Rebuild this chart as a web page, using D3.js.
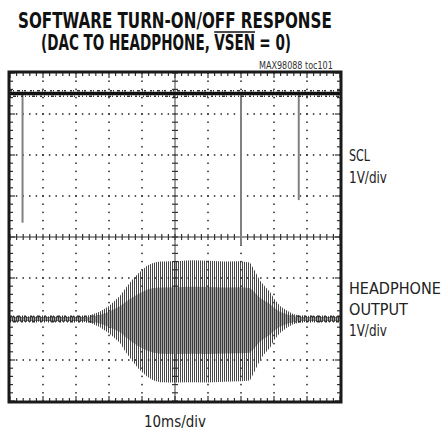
<!DOCTYPE html>
<html><head><meta charset="utf-8">
<script src="https://cdn.jsdelivr.net/npm/d3@7"></script>
<style>
html,body{margin:0;padding:0;background:#fff;}
svg{display:block;}
</style></head>
<body>
<svg id="c" width="445" height="436"></svg>
<script>
// ---- data ----
const timeDomain = [0, 100];          // ms, 10 ms/div
const voltDomain = [-4, 4];           // div (1 V/div)
const sclLevel = 3.5;                 // SCL trace position (div)
const sclPulseTimes = [3.8, 70, 87.5];
const sclPulseLows  = [0.35, -0.2, 0.9];
const hpLevel = -2.0;                 // headphone trace centre (div)
const hpTimes = [0, 22, 24.5, 27.3, 30, 33.3, 35, 37.3, 39, 41.5, 43.5, 45.5, 50, 55, 60, 65, 70, 72.7, 74, 75.8, 77, 78.8, 80, 81.8, 84, 85.8, 88, 100];
const hpUpper = [0.07, 0.07, 0.1, 0.18, 0.32, 0.56, 0.75, 0.98, 1.12, 1.3, 1.37, 1.4, 1.41, 1.43, 1.42, 1.4, 1.41, 1.38, 1.2, 0.93, 0.82, 0.66, 0.5, 0.32, 0.2, 0.12, 0.08, 0.07];
const hpLower = [0.07, 0.07, 0.1, 0.2, 0.35, 0.58, 0.8, 1.05, 1.22, 1.4, 1.5, 1.54, 1.55, 1.54, 1.55, 1.53, 1.52, 1.5, 1.3, 1.0, 0.86, 0.7, 0.52, 0.34, 0.21, 0.13, 0.08, 0.07];
const titleLine1 = "SOFTWARE TURN-ON/OFF RESPONSE";
const titleLine2 = ["(DAC TO HEADPHONE,", "VSEN", "= 0)"];
const sclLabels = ["SCL", "1V/div"];
const hpLabels = ["HEADPHONE", "OUTPUT", "1V/div"];
const xLabel = "10ms/div";
const idLabel = "MAX98088 toc101";

const svg = d3.select("#c");
const narrow = "'Liberation Sans Narrow','DejaVu Sans Condensed','Arial Narrow',sans-serif";

const x = d3.scaleLinear().domain(timeDomain).range([10, 340]);
const y = d3.scaleLinear().domain(voltDomain).range([401, 73]);

const xMajor = d3.range(0, 100.01, 10);
const yMajor = d3.range(-4, 4.01, 1);
const xMinor = d3.range(0, 100.01, 2);
const yMinor = d3.range(-4, 4.001, 0.2).map(v => Math.round(v*10)/10);

const defs = svg.append("defs");
const pat = defs.append("pattern").attr("id","stripes").attr("patternUnits","userSpaceOnUse")
  .attr("width", 2).attr("height", 10);
pat.append("rect").attr("x",0).attr("y",0).attr("width",1).attr("height",10).attr("fill","#262626");

const g = svg.append("g");

// dotted grid
const dots = g.append("g").attr("fill","#222");
xMajor.filter(t => t !== 0 && t !== 50 && t !== 100).forEach(t => {
  yMinor.forEach(v => dots.append("rect").attr("x", x(t)-0.75).attr("y", y(v)-0.75).attr("width",1.5).attr("height",1.5));
});
yMajor.filter(v => v !== -4 && v !== 0 && v !== 4).forEach(v => {
  xMinor.forEach(t => dots.append("rect").attr("x", x(t)-0.75).attr("y", y(v)-0.75).attr("width",1.5).attr("height",1.5));
});

// centre cross
const cross = g.append("g").attr("stroke","#777").attr("stroke-width",1.4);
cross.append("line").attr("x1", x(50)).attr("x2", x(50)).attr("y1", y(4)).attr("y2", y(-4));
cross.append("line").attr("x1", x(0)).attr("x2", x(100)).attr("y1", y(0)).attr("y2", y(0));
const ct = g.append("g").attr("stroke","#333").attr("stroke-width",1.2);
yMinor.forEach(v => ct.append("line").attr("x1", x(50)-3).attr("x2", x(50)+3).attr("y1", y(v)).attr("y2", y(v)));
xMinor.forEach(t => ct.append("line").attr("y1", y(0)-3).attr("y2", y(0)+3).attr("x1", x(t)).attr("x2", x(t)));

// frame ticks
const ft = g.append("g").attr("stroke","#333").attr("stroke-width",1.2);
xMinor.forEach((t,i) => {
  const L = (i % 5 === 0) ? 5 : 3;
  ft.append("line").attr("x1", x(t)).attr("x2", x(t)).attr("y1", y(4)).attr("y2", y(4)+L);
  ft.append("line").attr("x1", x(t)).attr("x2", x(t)).attr("y1", y(-4)).attr("y2", y(-4)-L);
});
yMinor.forEach((v,i) => {
  const L = (i % 5 === 0) ? 5 : 3;
  ft.append("line").attr("y1", y(v)).attr("y2", y(v)).attr("x1", x(0)).attr("x2", x(0)+L);
  ft.append("line").attr("y1", y(v)).attr("y2", y(v)).attr("x1", x(100)).attr("x2", x(100)-L);
});

// SCL pulses
sclPulseTimes.forEach((t,i) => {
  g.append("line").attr("x1", x(t)).attr("x2", x(t)).attr("y1", y(sclLevel)).attr("y2", y(sclPulseLows[i]))
    .attr("stroke","#808080").attr("stroke-width",2);
});

// noisy trace helper
function trace(level){
  const tg = g.append("g");
  tg.append("line").attr("x1", x(0)).attr("x2", x(100)).attr("y1", y(level)).attr("y2", y(level))
    .attr("stroke","#111").attr("stroke-width",3.6);
  tg.append("line").attr("x1", x(0)).attr("x2", x(100)).attr("y1", y(level)-2.8).attr("y2", y(level)-2.8)
    .attr("stroke","#333").attr("stroke-width",1.5).attr("stroke-dasharray","2 1 1 3 3 2 1 1 2 4");
  tg.append("line").attr("x1", x(0)).attr("x2", x(100)).attr("y1", y(level)+2.8).attr("y2", y(level)+2.8)
    .attr("stroke","#333").attr("stroke-width",1.5).attr("stroke-dasharray","1 2 3 1 1 3 2 2 1 3");
}
trace(sclLevel);
trace(hpLevel);

// headphone envelope
const env = hpTimes.map((t,i) => ({t, up: hpUpper[i], lo: hpLower[i]}));
const outer = d3.area().x(d => x(d.t)).y0(d => y(hpLevel - d.lo)).y1(d => y(hpLevel + d.up));
const inner = d3.area().x(d => x(d.t)).y0(d => y(hpLevel - d.lo*0.55)).y1(d => y(hpLevel + d.up*0.55));
g.append("path").datum(env).attr("d", inner).attr("fill","#a6a6a6");
g.append("path").datum(env).attr("d", outer).attr("fill","url(#stripes)").attr("opacity",0.85);

// frame
svg.append("rect").attr("x", 9).attr("y", 72).attr("width", 332).attr("height", 330)
  .attr("fill","none").attr("stroke","#1a1a1a").attr("stroke-width",3);

// text helper: scales horizontally with a transform to reach a target width
function fitText(str, px, py, targetW, opts){
  const gg = svg.append("g");
  const t = gg.append("text").attr("x",0).attr("y",0)
    .attr("font-family",narrow).attr("font-size",opts.size).attr("fill",opts.fill || "#222")
    .attr("font-weight",opts.weight || "normal").text(str);
  const w = t.node().getComputedTextLength();
  const s = targetW / w;
  let left = px;
  if (opts.anchor === "middle") left = px - targetW/2;
  if (opts.anchor === "end") left = px - targetW;
  gg.attr("transform", `translate(${left},${py}) scale(${s},1)`);
  return {left, w: targetW};
}

// title
fitText(titleLine1, 175, 28, 314, {size:21, weight:"bold", fill:"#111", anchor:"middle"});
// line 2 as three separate pieces
const probe = titleLine2.map(s => {
  const t = svg.append("text").attr("font-family",narrow).attr("font-weight","bold").attr("font-size",21).text(s);
  const w = t.node().getComputedTextLength(); t.remove(); return w;
});
const gap = 6;
const k = 250 / (d3.sum(probe) + 2*gap);
let cx = 166 - 125;
titleLine2.forEach((s,i) => {
  const w = probe[i]*k;
  fitText(s, cx, 50, w, {size:21, weight:"bold", fill:"#111"});
  if (i === 1) {
    svg.append("line").attr("x1",cx).attr("x2",cx+w).attr("y1",32).attr("y2",32).attr("stroke","#111").attr("stroke-width",1.6);
  }
  cx += w + gap*k;
});

fitText(idLabel, 333, 69, 74, {size:10, fill:"#333", anchor:"end"});

// right labels
fitText(sclLabels[0], 349, 161, 21, {size:16});
fitText(sclLabels[1], 349, 183, 38, {size:16});
fitText(hpLabels[0], 349, 294, 92, {size:16});
fitText(hpLabels[1], 349, 315, 59, {size:16});
fitText(hpLabels[2], 349, 336, 38, {size:16});

fitText(xLabel, 175, 427, 62, {size:16, anchor:"middle"});
</script>
</body></html>
